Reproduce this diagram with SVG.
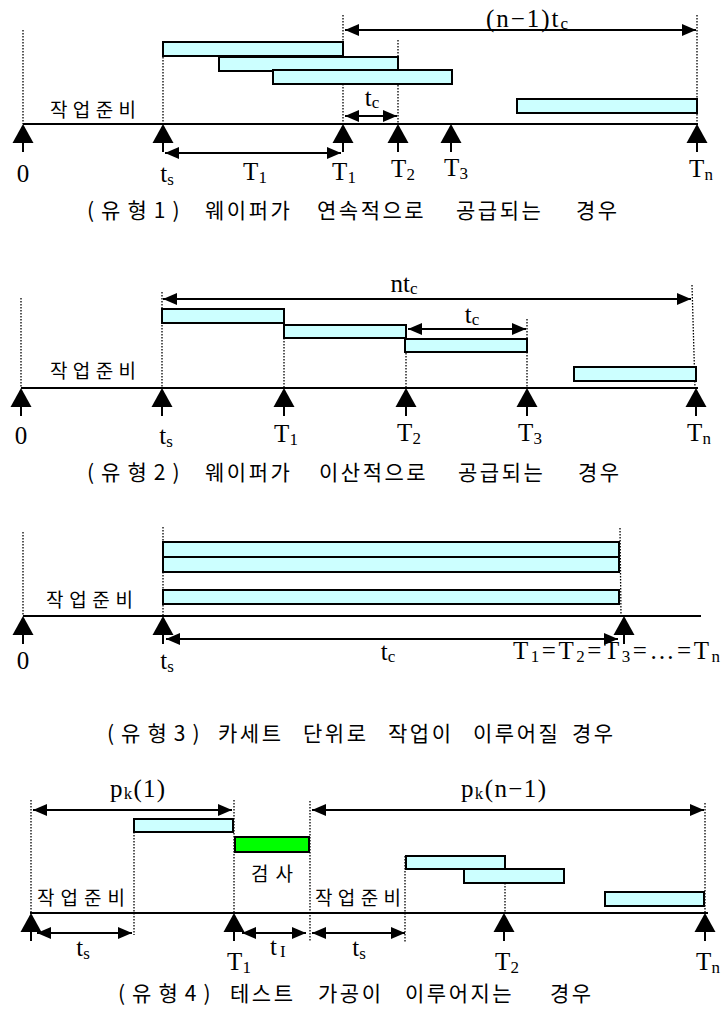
<svg xmlns="http://www.w3.org/2000/svg" width="722" height="1021" viewBox="0 0 722 1021">
<style>
.axis{stroke:#000;stroke-width:2;fill:none}
.dot{stroke:#000;stroke-width:1.3;stroke-dasharray:1.5 1.5;fill:none}
.box{fill:#ccffff;stroke:#000;stroke-width:2}
.gbox{fill:#00ff00;stroke:#000;stroke-width:2}
.dim{stroke:#000;stroke-width:2;fill:none;marker-start:url(#ah);marker-end:url(#ah)}
.lat{font-family:"Liberation Serif","Times New Roman",serif;font-size:25px;fill:#000}
.sub{font-size:17px}
.kr{font-family:"Noto Sans CJK KR","Noto Sans",sans-serif;font-size:19px;fill:#000}
.cap{font-family:"Noto Sans CJK KR","Noto Sans",sans-serif;font-size:21px;letter-spacing:2.5px;fill:#000}
.pw{letter-spacing:7px}
</style>
<defs>
<marker id="ah" markerUnits="userSpaceOnUse" markerWidth="14" markerHeight="12" refX="14" refY="6" orient="auto-start-reverse" viewBox="0 0 14 12">
<path d="M0,0 L14,6 L0,12 Z" fill="#000"/>
</marker>
<g id="up">
<path d="M0,0 L10.5,19 L-10.5,19 Z" fill="#000"/>
<line x1="0" y1="19" x2="0" y2="28" stroke="#000" stroke-width="2"/>
</g>
</defs>

<!-- Type 1 -->
<g id="type1">
<g id="t1-guides">
<line class="dot" x1="23" y1="30" x2="23" y2="124"/>
<line class="dot" x1="163" y1="42" x2="163" y2="124"/>
<line class="dot" x1="343" y1="15" x2="343" y2="124"/>
<line class="dot" x1="398" y1="40" x2="398" y2="124"/>
<line class="dot" x1="697" y1="15" x2="697" y2="124"/>
</g>
<g id="t1-wafer1"><rect class="box" x="163" y="42" width="180" height="14"/></g>
<g id="t1-wafer2"><rect class="box" x="219" y="57" width="179" height="14"/></g>
<g id="t1-wafer3"><rect class="box" x="273" y="70" width="179" height="14"/></g>
<g id="t1-wafern"><rect class="box" x="517" y="99" width="180" height="14"/></g>
<g id="t1-axis">
<line class="axis" x1="23" y1="124" x2="698" y2="124"/>
<use href="#up" x="23" y="124"/>
<use href="#up" x="163" y="124"/>
<use href="#up" x="343" y="124"/>
<use href="#up" x="398" y="124"/>
<use href="#up" x="451" y="124"/>
<use href="#up" x="697" y="124"/>
</g>
<g id="t1-connectors">
<line class="dim" x1="345" y1="30" x2="696" y2="30"/>
<line class="dim" x1="345" y1="116" x2="397" y2="116"/>
<line class="dim" x1="165" y1="153" x2="341" y2="153"/>
</g>
<g id="t1-labels">
<text class="lat" x="486" y="27" textLength="82" lengthAdjust="spacing">(n−1)t<tspan class="sub" dy="2">c</tspan></text>
<text class="lat" x="372" y="106" text-anchor="middle">t<tspan class="sub" dy="2">c</tspan></text>
<text class="kr" x="50" y="117" textLength="86" lengthAdjust="spacing">작업준비</text>
<text class="lat" x="23" y="182" text-anchor="middle">0</text>
<text class="lat" x="167" y="182" text-anchor="middle">t<tspan class="sub" dy="3">s</tspan></text>
<text class="lat" x="255" y="180" text-anchor="middle">T<tspan class="sub" dy="3">1</tspan></text>
<text class="lat" x="344" y="180" text-anchor="middle">T<tspan class="sub" dy="3">1</tspan></text>
<text class="lat" x="403" y="177" text-anchor="middle">T<tspan class="sub" dy="3">2</tspan></text>
<text class="lat" x="456" y="176" text-anchor="middle">T<tspan class="sub" dy="3">3</tspan></text>
<text class="lat" x="701" y="177" text-anchor="middle">T<tspan class="sub" dy="3">n</tspan></text>
</g>
<text class="cap" y="218"><tspan class="pw" x="87">(유형1)</tspan><tspan x="205">웨이퍼가</tspan><tspan x="317">연속적으로</tspan><tspan x="456">공급되는</tspan><tspan x="576">경우</tspan></text>
</g>

<!-- Type 2 -->
<g id="type2">
<g id="t2-guides">
<line class="dot" x1="21" y1="298" x2="21" y2="388"/>
<line class="dot" x1="162" y1="292" x2="162" y2="388"/>
<line class="dot" x1="284" y1="323" x2="284" y2="388"/>
<line class="dot" x1="406" y1="338" x2="406" y2="388"/>
<line class="dot" x1="527" y1="319" x2="527" y2="388"/>
<line class="dot" x1="692" y1="285" x2="695" y2="388"/>
</g>
<g id="t2-wafer1"><rect class="box" x="162" y="309" width="122" height="14"/></g>
<g id="t2-wafer2"><rect class="box" x="284" y="325" width="122" height="13"/></g>
<g id="t2-wafer3"><rect class="box" x="405" y="339" width="122" height="13"/></g>
<g id="t2-wafern"><rect class="box" x="574" y="367" width="122" height="14"/></g>
<g id="t2-axis">
<line class="axis" x1="21" y1="388" x2="698" y2="388"/>
<use href="#up" x="21" y="388"/>
<use href="#up" x="162" y="388"/>
<use href="#up" x="284" y="388"/>
<use href="#up" x="406" y="388"/>
<use href="#up" x="527" y="388"/>
<use href="#up" x="696" y="388"/>
</g>
<g id="t2-connectors">
<line class="dim" x1="163" y1="299" x2="691" y2="299"/>
<line class="dim" x1="408" y1="329" x2="526" y2="329"/>
</g>
<g id="t2-labels">
<text class="lat" x="404" y="292" text-anchor="middle">nt<tspan class="sub" dy="2">c</tspan></text>
<text class="lat" x="472" y="323" text-anchor="middle">t<tspan class="sub" dy="2">c</tspan></text>
<text class="kr" x="50" y="378" textLength="86" lengthAdjust="spacing">작업준비</text>
<text class="lat" x="21" y="444" text-anchor="middle">0</text>
<text class="lat" x="166" y="444" text-anchor="middle">t<tspan class="sub" dy="3">s</tspan></text>
<text class="lat" x="286" y="442" text-anchor="middle">T<tspan class="sub" dy="3">1</tspan></text>
<text class="lat" x="409" y="441" text-anchor="middle">T<tspan class="sub" dy="3">2</tspan></text>
<text class="lat" x="530" y="441" text-anchor="middle">T<tspan class="sub" dy="3">3</tspan></text>
<text class="lat" x="699" y="441" text-anchor="middle">T<tspan class="sub" dy="3">n</tspan></text>
</g>
<text class="cap" y="480"><tspan class="pw" x="87">(유형2)</tspan><tspan x="205">웨이퍼가</tspan><tspan x="319">이산적으로</tspan><tspan x="458">공급되는</tspan><tspan x="578">경우</tspan></text>
</g>

<!-- Type 3 -->
<g id="type3">
<g id="t3-guides">
<line class="dot" x1="23" y1="532" x2="23" y2="616"/>
<line class="dot" x1="163" y1="527" x2="163" y2="616"/>
<line class="dot" x1="620" y1="528" x2="621" y2="616"/>
</g>
<g id="t3-wafer1"><rect class="box" x="163" y="542" width="456" height="15"/></g>
<g id="t3-wafer2"><rect class="box" x="163" y="557" width="456" height="15"/></g>
<g id="t3-wafern"><rect class="box" x="163" y="590" width="456" height="14"/></g>
<g id="t3-axis">
<line class="axis" x1="23" y1="616" x2="701" y2="616"/>
<use href="#up" x="23" y="616"/>
<use href="#up" x="163" y="616"/>
<use href="#up" x="624" y="616"/>
</g>
<g id="t3-connectors">
<line class="dim" x1="166" y1="639" x2="618" y2="639"/>
</g>
<g id="t3-labels">
<text class="kr" x="46" y="607" textLength="87" lengthAdjust="spacing">작업준비</text>
<text class="lat" x="23" y="669" text-anchor="middle">0</text>
<text class="lat" x="167" y="669" text-anchor="middle">t<tspan class="sub" dy="3">s</tspan></text>
<text class="lat" x="388" y="660" text-anchor="middle">t<tspan class="sub" dy="2">c</tspan></text>
<text class="lat" x="513" y="659" textLength="207" lengthAdjust="spacing">T<tspan class="sub" dy="3">1</tspan><tspan dy="-3">=T</tspan><tspan class="sub" dy="3">2</tspan><tspan dy="-3">=T</tspan><tspan class="sub" dy="3">3</tspan><tspan dy="-3">=…=T</tspan><tspan class="sub" dy="3">n</tspan></text>
</g>
<text class="cap" y="741"><tspan class="pw" x="107">(유형3)</tspan><tspan x="218">카세트</tspan><tspan x="303">단위로</tspan><tspan x="388">작업이</tspan><tspan x="473">이루어질</tspan><tspan x="572">경우</tspan></text>
</g>

<!-- Type 4 -->
<g id="type4">
<g id="t4-guides">
<line class="dot" x1="31" y1="800" x2="31" y2="913"/>
<line class="dot" x1="234" y1="800" x2="234" y2="913"/>
<line class="dot" x1="134" y1="832" x2="134" y2="935"/>
<line class="dot" x1="310" y1="801" x2="310" y2="942"/>
<line class="dot" x1="405" y1="856" x2="405" y2="942"/>
<line class="dot" x1="505" y1="856" x2="505" y2="913"/>
<line class="dot" x1="705" y1="803" x2="705" y2="913"/>
</g>
<g id="t4-wafer1"><rect class="box" x="134" y="819" width="99" height="13"/></g>
<g id="t4-inspect"><rect class="gbox" x="235" y="837" width="74" height="15"/></g>
<g id="t4-wafer2"><rect class="box" x="406" y="856" width="99" height="13"/></g>
<g id="t4-wafer3"><rect class="box" x="464" y="869" width="100" height="14"/></g>
<g id="t4-wafern"><rect class="box" x="605" y="892" width="99" height="14"/></g>
<g id="t4-axis">
<line class="axis" x1="30" y1="913" x2="708" y2="913"/>
<use href="#up" x="31" y="913"/>
<use href="#up" x="234" y="913"/>
<use href="#up" x="504" y="913"/>
<use href="#up" x="705" y="913"/>
</g>
<g id="t4-connectors">
<line class="dim" x1="33" y1="810" x2="232" y2="810"/>
<line class="dim" x1="312" y1="810" x2="704" y2="810"/>
<line class="dim" x1="37" y1="933" x2="132" y2="933"/>
<line class="dim" x1="242" y1="933" x2="306" y2="933"/>
<line class="dim" x1="312" y1="933" x2="405" y2="933"/>
</g>
<g id="t4-labels">
<text class="lat" x="110" y="797" textLength="55" lengthAdjust="spacing">p<tspan class="sub" dy="2">k</tspan><tspan dy="-2">(1)</tspan></text>
<text class="lat" x="461" y="797" textLength="85" lengthAdjust="spacing">p<tspan class="sub" dy="2">k</tspan><tspan dy="-2">(n−1)</tspan></text>
<text class="kr" x="251" y="881" textLength="42" lengthAdjust="spacing">검사</text>
<text class="kr" x="37" y="905" textLength="88" lengthAdjust="spacing">작업준비</text>
<text class="kr" x="315" y="905" textLength="86" lengthAdjust="spacing">작업준비</text>
<text class="lat" x="83" y="956" text-anchor="middle">t<tspan class="sub" dy="3">s</tspan></text>
<text class="lat" x="270" y="955">t<tspan class="sub" dx="3" dy="2">I</tspan></text>
<text class="lat" x="359" y="956" text-anchor="middle">t<tspan class="sub" dy="3">s</tspan></text>
<text class="lat" x="239" y="970" text-anchor="middle">T<tspan class="sub" dy="3">1</tspan></text>
<text class="lat" x="507" y="970" text-anchor="middle">T<tspan class="sub" dy="3">2</tspan></text>
<text class="lat" x="708" y="970" text-anchor="middle">T<tspan class="sub" dy="3">n</tspan></text>
</g>
<text class="cap" y="1001"><tspan class="pw" x="118">(유형4)</tspan><tspan x="230">테스트</tspan><tspan x="318">가공이</tspan><tspan x="405">이루어지는</tspan><tspan x="550">경우</tspan></text>
</g>
</svg>
